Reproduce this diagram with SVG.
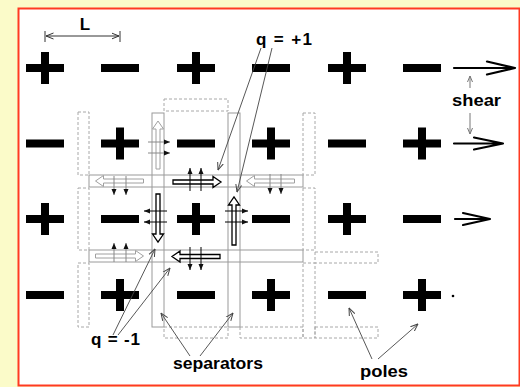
<svg xmlns="http://www.w3.org/2000/svg" xmlns:xlink="http://www.w3.org/1999/xlink" width="520" height="387" viewBox="0 0 520 387">
<style>
.sym{fill:#000}
.sep{fill:none;stroke:#9a9a9a;stroke-width:1}
.dash{fill:none;stroke:#a8a8a8;stroke-width:1;stroke-dasharray:3,2}
.hb{fill:none;stroke:#000;stroke-width:1.3}
.hg{fill:none;stroke:#a0a0a0;stroke-width:1}
.xb{stroke:#000;stroke-width:1;fill:none}
.xg{stroke:#888;stroke-width:1;fill:none}
.call{stroke:#444;stroke-width:0.9;fill:none}
.shear{stroke:#000;stroke-width:2.2;fill:none;stroke-linecap:round;stroke-linejoin:round}
.lbl{font-family:"Liberation Sans",Arial,sans-serif;font-weight:bold;font-size:17px;fill:#000}
</style>
<defs>
<g id="plus"><rect x="-19" y="-4" width="38" height="8"/><rect x="-4" y="-16" width="8" height="32"/></g>
<rect id="minus" x="-19" y="-4" width="38" height="8"/>
<path id="ha" d="M-24,-2 H16 V-5.5 L24,0 L16,5.5 V2 H-24 Z"/>
<marker id="mh" viewBox="0 0 6 6" refX="6" refY="3" markerWidth="6" markerHeight="6" markerUnits="userSpaceOnUse" orient="auto"><path d="M0,0.5 L6,3 L0,5.5 z" fill="#111"/></marker>
<marker id="mc" viewBox="0 0 8 8" refX="7.5" refY="4" markerWidth="8" markerHeight="8" markerUnits="userSpaceOnUse" orient="auto"><path d="M0,1 L7.5,4 L0,7" fill="none" stroke="#444" stroke-width="1"/></marker>
<marker id="md" viewBox="0 0 8 8" refX="7.5" refY="4" markerWidth="8" markerHeight="8" markerUnits="userSpaceOnUse" orient="auto-start-reverse"><path d="M0,1 L7.5,4 L0,7" fill="none" stroke="#333" stroke-width="1"/></marker>
<marker id="mg" viewBox="0 0 6 6" refX="6" refY="3" markerWidth="6" markerHeight="6" markerUnits="userSpaceOnUse" orient="auto"><path d="M0,0.5 L6,3 L0,5.5" fill="none" stroke="#777" stroke-width="1"/></marker>
</defs>
<rect x="0" y="0" width="520" height="387" fill="#fbfbc9"/>
<rect x="18.5" y="8.5" width="501" height="377" fill="#fff" stroke="#ff3a22" stroke-width="2"/>

<g id="separators">
<rect class="sep" x="152" y="113" width="12" height="214"/>
<rect class="sep" x="228" y="113" width="12" height="214"/>
<rect class="sep" x="89" y="175" width="214" height="12"/>
<rect class="sep" x="89" y="250" width="214" height="12"/>
</g>
<g id="pole-regions">
<rect class="dash" x="164" y="99" width="64" height="12"/>
<rect class="dash" x="78" y="112" width="11" height="63"/>
<rect class="dash" x="303" y="113" width="12" height="62"/>
<rect class="dash" x="78" y="188" width="11" height="62"/>
<rect class="dash" x="303" y="188" width="12" height="62"/>
<rect class="dash" x="78" y="263" width="11" height="64"/>
<rect class="dash" x="164" y="327" width="64" height="11"/>
<rect class="dash" x="240" y="327" width="63" height="11"/>
<rect class="dash" x="303" y="263" width="12" height="75"/>
<rect class="dash" x="315" y="252" width="63" height="11"/>
<rect class="dash" x="315" y="327" width="63" height="11"/>
</g>

<g id="poles" class="sym">
<g id="p-1-1"><use xlink:href="#plus" x="45" y="68"/></g>
<g id="p-1-2"><use xlink:href="#minus" x="120" y="68"/></g>
<g id="p-1-3"><use xlink:href="#plus" x="196" y="68"/></g>
<g id="p-1-4"><use xlink:href="#minus" x="271" y="68"/></g>
<g id="p-1-5"><use xlink:href="#plus" x="347" y="68"/></g>
<g id="p-1-6"><use xlink:href="#minus" x="422" y="68"/></g>
<g id="p-2-1"><use xlink:href="#minus" x="45" y="143.5"/></g>
<g id="p-2-2"><use xlink:href="#plus" x="120" y="143.5"/></g>
<g id="p-2-3"><use xlink:href="#minus" x="196" y="143.5"/></g>
<g id="p-2-4"><use xlink:href="#plus" x="271" y="143.5"/></g>
<g id="p-2-5"><use xlink:href="#minus" x="347" y="143.5"/></g>
<g id="p-2-6"><use xlink:href="#plus" x="422" y="143.5"/></g>
<g id="p-3-1"><use xlink:href="#plus" x="45" y="219"/></g>
<g id="p-3-2"><use xlink:href="#minus" x="120" y="219"/></g>
<g id="p-3-3"><use xlink:href="#plus" x="196" y="219"/></g>
<g id="p-3-4"><use xlink:href="#minus" x="271" y="219"/></g>
<g id="p-3-5"><use xlink:href="#plus" x="347" y="219"/></g>
<g id="p-3-6"><use xlink:href="#minus" x="422" y="219"/></g>
<g id="p-4-1"><use xlink:href="#minus" x="45" y="295"/></g>
<g id="p-4-2"><use xlink:href="#plus" x="120" y="295"/></g>
<g id="p-4-3"><use xlink:href="#minus" x="196" y="295"/></g>
<g id="p-4-4"><use xlink:href="#plus" x="271" y="295"/></g>
<g id="p-4-5"><use xlink:href="#minus" x="347" y="295"/></g>
<g id="p-4-6"><use xlink:href="#plus" x="422" y="295"/></g>
</g>

<g id="flows">
<use xlink:href="#ha" class="hg" transform="translate(158,145) rotate(-90)"/>
<use xlink:href="#ha" class="hg" transform="translate(119.5,181) rotate(180)"/>
<use xlink:href="#ha" class="hg" transform="translate(270.5,181) rotate(180)"/>
<use xlink:href="#ha" class="hg" transform="translate(119.5,256)"/>
<use xlink:href="#ha" class="hb" transform="translate(197,182)"/>
<use xlink:href="#ha" class="hb" transform="translate(196,256.5) rotate(180)"/>
<use xlink:href="#ha" class="hb" transform="translate(158,218) rotate(90)"/>
<use xlink:href="#ha" class="hb" transform="translate(234,221) rotate(-90)"/>
</g>

<g id="crossing-arrows">
<line class="xg" x1="148" y1="142" x2="170" y2="142" marker-end="url(#mh)"/>
<line class="xg" x1="148" y1="153" x2="170" y2="153" marker-end="url(#mh)"/>
<line class="xg" x1="114" y1="176" x2="114" y2="195" marker-end="url(#mh)"/>
<line class="xg" x1="126" y1="176" x2="126" y2="195" marker-end="url(#mh)"/>
<line class="xg" x1="270" y1="174" x2="270" y2="194" marker-end="url(#mh)"/>
<line class="xg" x1="281" y1="174" x2="281" y2="194" marker-end="url(#mh)"/>
<line class="xg" x1="114" y1="262" x2="114" y2="243" marker-end="url(#mh)"/>
<line class="xg" x1="126" y1="262" x2="126" y2="243" marker-end="url(#mh)"/>
<line class="xb" x1="190" y1="191" x2="190" y2="168" marker-end="url(#mh)"/>
<line class="xb" x1="201" y1="191" x2="201" y2="168" marker-end="url(#mh)"/>
<line class="xb" x1="190" y1="247" x2="190" y2="270" marker-end="url(#mh)"/>
<line class="xb" x1="201" y1="247" x2="201" y2="270" marker-end="url(#mh)"/>
<line class="xb" x1="167" y1="211" x2="144" y2="211" marker-end="url(#mh)"/>
<line class="xb" x1="167" y1="222" x2="144" y2="222" marker-end="url(#mh)"/>
<line class="xb" x1="225" y1="211" x2="248" y2="211" marker-end="url(#mh)"/>
<line class="xb" x1="225" y1="222" x2="248" y2="222" marker-end="url(#mh)"/>
</g>

<g id="shear-arrows">
<path class="shear" d="M454,68 H515 M487,61.5 L515,68 L487,74.5"/>
<path class="shear" d="M454,143.5 H503 M474,137.5 L503,143.5 L474,149.5"/>
<path class="shear" d="M455,219 H490 M463,213 L490,219 L463,225"/>
<circle cx="453" cy="296" r="1.3" fill="#000"/>
<line x1="470" y1="88" x2="470" y2="76" stroke="#777" stroke-width="1" marker-end="url(#mg)"/>
<line x1="470" y1="113" x2="470" y2="134" stroke="#777" stroke-width="1" marker-end="url(#mg)"/>
</g>

<g id="connectors">
<path class="call" d="M261,48 L218,170" marker-end="url(#mc)"/>
<path class="call" d="M272,48 L237,192" marker-end="url(#mc)"/>
<path class="call" d="M113,335 L155,249" marker-end="url(#mc)"/>
<path class="call" d="M118,335 L170,268" marker-end="url(#mc)"/>
<path class="call" d="M190,356 L161,313" marker-end="url(#mc)"/>
<path class="call" d="M200,356 L233,313" marker-end="url(#mc)"/>
<path class="call" d="M372,359 L349,308" marker-end="url(#mc)"/>
<path class="call" d="M378,359 L418,324" marker-end="url(#mc)"/>
<line x1="45" y1="31" x2="45" y2="42" stroke="#333" stroke-width="1"/>
<line x1="120" y1="31" x2="120" y2="42" stroke="#333" stroke-width="1"/>
<line x1="46" y1="36" x2="119" y2="36" stroke="#333" stroke-width="1" marker-start="url(#md)" marker-end="url(#md)"/>
</g>

<g id="labels">
<text class="lbl" x="85" y="30" text-anchor="middle" font-size="18">L</text>
<text class="lbl" x="256" y="45" textLength="56" lengthAdjust="spacing">q = +1</text>
<text class="lbl" x="452" y="106" textLength="49" lengthAdjust="spacingAndGlyphs">shear</text>
<text class="lbl" x="91" y="345" textLength="49" lengthAdjust="spacing">q = -1</text>
<text class="lbl" x="173" y="369" textLength="90" lengthAdjust="spacingAndGlyphs">separators</text>
<text class="lbl" x="360" y="377" textLength="48" lengthAdjust="spacingAndGlyphs">poles</text>
</g>
</svg>
